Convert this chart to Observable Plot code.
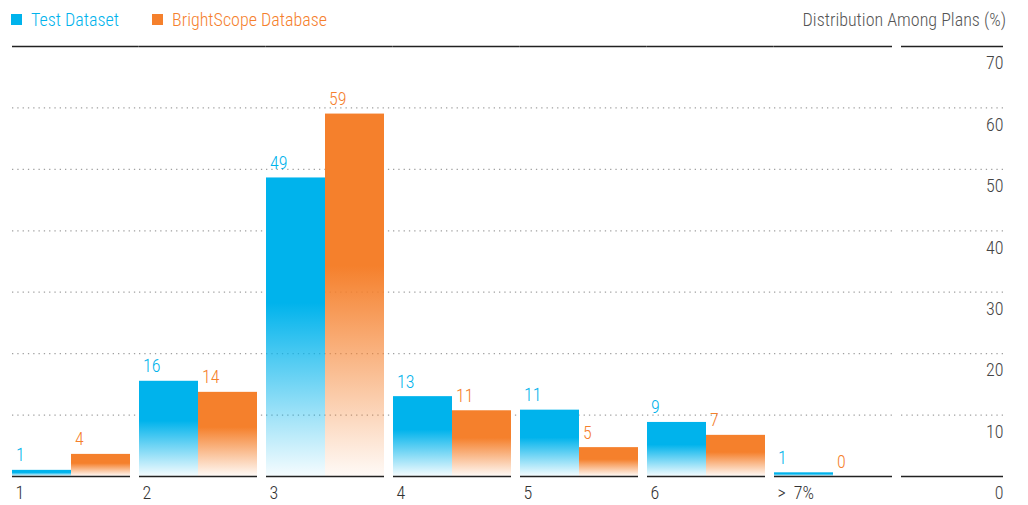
<!DOCTYPE html>
<html><head><meta charset="utf-8">
<script src="https://cdn.jsdelivr.net/npm/d3@7"></script>
<script src="https://cdn.jsdelivr.net/npm/@observablehq/plot@0.6"></script>
<style>
body{margin:0;background:#fff;font-family:"Roboto Condensed","Liberation Sans Narrow","DejaVu Sans Condensed","Arial Narrow",sans-serif;font-weight:300;}
#header{position:relative;height:36px;width:1028px;}
#legend{position:absolute;left:11px;top:9px;display:flex;align-items:center;font-size:18px;}
.item{display:flex;align-items:center;margin-right:33px;}
.sw{width:11px;height:11px;margin-right:9px;}
#title{position:absolute;right:22px;top:9px;font-size:18px;color:#555;}
</style></head>
<body>
<div id="header"><div id="legend"></div><div id="title">Distribution Among Plans (%)</div></div>
<div id="chart"></div>
<script>
const categories = ["1", "2", "3", "4", "5", "6", ">\u00a0\u00a07%"];
const seriesNames = ["Test Dataset", "BrightScope Database"];
const seriesColors = ["#00b3ec", "#f5802c"];
const testValues = [1.0, 15.5, 48.6, 13.0, 10.8, 8.8, 0.6];
const brightValues = [3.6, 13.7, 59.0, 10.7, 4.7, 6.7, 0];
const gridTicks = [10, 20, 30, 40, 50, 60];
const axisTicks = [0, 10, 20, 30, 40, 50, 60, 70];
const axisKey = "axis";

// legend
const legend = d3.select("#legend");
seriesNames.forEach((s, i) => {
  const it = legend.append("div").attr("class", "item");
  it.append("div").attr("class", "sw").style("background", seriesColors[i]);
  it.append("span").style("color", seriesColors[i]).text(s);
});

const rows = [];
categories.forEach((c, i) => {
  rows.push({category: c, series: seriesNames[0], value: testValues[i]});
  rows.push({category: c, series: seriesNames[1], value: brightValues[i]});
});
const inner = categories.slice(0, -1);
const last = categories.slice(-1);
const cross = (panels, ticks) => panels.flatMap(p => ticks.map(t => ({panel: p, tick: t})));

const dotted = {stroke: "#a0a0a0", strokeWidth: 1.3, strokeDasharray: "1.3,4"};
const solid = {stroke: "#222", strokeWidth: 1.5};
const font = '"Roboto Condensed","Liberation Sans Narrow","DejaVu Sans Condensed","Arial Narrow",sans-serif';

const chart = Plot.plot({
  width: 1028,
  height: 469,
  marginTop: 10,
  marginBottom: 29,
  marginLeft: 8,
  marginRight: 5,
  style: {fontFamily: font, fontSize: "18px", fontWeight: 300, background: "#fff"},
  fx: {domain: [...categories, axisKey], paddingInner: 0.069, paddingOuter: 0, axis: null, label: null},
  x: {domain: seriesNames, padding: 0, axis: null},
  y: {domain: [0, 70], axis: null},
  color: {domain: seriesNames, range: ["url(#gradTest)", "url(#gradBright)"]},
  marks: [
    // dotted gridlines
    Plot.ruleY(cross(inner, gridTicks), {fx: "panel", y: "tick", insetRight: -8.8, ...dotted}),
    Plot.ruleY(cross(last, gridTicks), {fx: "panel", y: "tick", ...dotted}),
    Plot.ruleY(cross([axisKey], gridTicks), {fx: "panel", y: "tick", insetRight: 16, ...dotted}),
    // bars
    Plot.barY(rows, {fx: "category", x: "series", y: "value", fill: "series"}),
    // top line and baselines
    Plot.ruleY(cross(inner, [70]), {fx: "panel", y: "tick", insetRight: -8.8, ...solid}),
    Plot.ruleY(cross(last, [70, 0]).concat(cross(inner, [0])), {fx: "panel", y: "tick", ...solid}),
    Plot.ruleY(cross([axisKey], [70, 0]), {fx: "panel", y: "tick", insetRight: 16, ...solid}),
    // value labels
    Plot.text(rows.filter(d => d.series === seriesNames[0]), {fx: "category", x: "series", y: "value", text: d => d3.format(".0f")(d.value), fill: seriesColors[0], textAnchor: "start", dx: -26, dy: -9, lineAnchor: "bottom"}),
    Plot.text(rows.filter(d => d.series === seriesNames[1]), {fx: "category", x: "series", y: "value", text: d => d3.format(".0f")(d.value), fill: seriesColors[1], textAnchor: "start", dx: -26, dy: -9, lineAnchor: "bottom"}),
    // category labels
    Plot.text(categories.map(c => ({category: c})), {fx: "category", y: () => 0, text: "category", frameAnchor: "left", textAnchor: "start", dx: 3, dy: 17, fill: "#333"}),
    // y axis labels
    Plot.text(axisTicks.map(t => ({panel: axisKey, tick: t})), {fx: "panel", y: "tick", text: d => String(d.tick), frameAnchor: "right", textAnchor: "end", dx: -16, dy: 17, fill: "#444"})
  ]
});

// gradient definitions
const svgNS = "http://www.w3.org/2000/svg";
const defs = document.createElementNS(svgNS, "defs");
[["gradTest", seriesColors[0]], ["gradBright", seriesColors[1]]].forEach(([id, c]) => {
  const g = document.createElementNS(svgNS, "linearGradient");
  g.setAttribute("id", id);
  g.setAttribute("x1", "0"); g.setAttribute("y1", "0");
  g.setAttribute("x2", "0"); g.setAttribute("y2", "1");
  [["0", 1], ["0.42", 1], ["1", 0.04]].forEach(([o, op]) => {
    const s = document.createElementNS(svgNS, "stop");
    s.setAttribute("offset", o);
    s.setAttribute("stop-color", c);
    s.setAttribute("stop-opacity", op);
    g.appendChild(s);
  });
  defs.appendChild(g);
});
const svg = chart.tagName.toLowerCase() === "svg" ? chart : chart.querySelector("svg");
svg.insertBefore(defs, svg.firstChild);
svg.style.display = "block";
document.getElementById("chart").appendChild(chart);
</script>
</body></html>
